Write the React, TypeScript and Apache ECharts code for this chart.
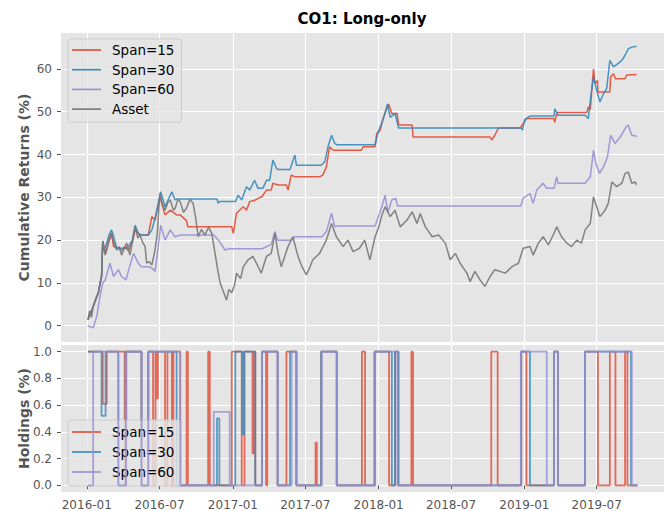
import { useEffect, useRef } from "react";
import * as echarts from "echarts";

type P = [string, number];

const seriesNames = ["Span=15", "Span=30", "Span=60", "Asset"];
const seriesColors = ["#E24A33", "#348ABD", "#988ED5", "#777777"];
const xTickLabels = ["2016-01", "2016-07", "2017-01", "2017-07", "2018-01", "2018-07", "2019-01", "2019-07"];
const returnTicks = [0, 10, 20, 30, 40, 50, 60];
const holdingTicks = [0, 0.2, 0.4, 0.6, 0.8, 1.0];

const span15Returns: P[] = [
  ["2016-01-04", 1.4], ["2016-01-17", 4.5], ["2016-01-30", 7.7], ["2016-02-07", 11.5], ["2016-02-10", 19.8],
  ["2016-02-16", 17.0], ["2016-02-20", 18.0], ["2016-03-03", 21.5], ["2016-03-08", 18.5], ["2016-03-20", 18.1],
  ["2016-03-28", 17.5], ["2016-04-05", 18.5], ["2016-04-14", 17.5], ["2016-04-24", 19.5], ["2016-05-01", 22.4],
  ["2016-05-13", 21.2], ["2016-06-03", 21.2], ["2016-06-12", 25.5], ["2016-06-20", 24.7], ["2016-07-02", 30.2],
  ["2016-07-15", 25.9], ["2016-07-28", 27.0], ["2016-08-13", 25.9], ["2016-08-22", 25.9], ["2016-09-07", 24.5],
  ["2016-09-10", 23.1], ["2016-12-29", 23.1], ["2017-01-02", 21.6], ["2017-01-10", 26.3], ["2017-01-27", 27.8],
  ["2017-02-04", 27.0], ["2017-02-12", 29.0], ["2017-02-26", 29.4], ["2017-03-15", 30.2], ["2017-03-26", 31.7],
  ["2017-04-07", 31.7], ["2017-04-11", 33.3], ["2017-04-24", 32.9], ["2017-05-15", 32.9], ["2017-05-19", 31.7],
  ["2017-05-27", 35.2], ["2017-06-05", 34.8], ["2017-08-06", 34.8], ["2017-08-14", 35.2], ["2017-08-23", 37.1],
  ["2017-08-31", 41.8], ["2017-09-09", 41.0], ["2017-11-19", 41.0], ["2017-11-23", 41.8], ["2017-12-23", 41.8],
  ["2017-12-27", 44.9], ["2018-01-05", 45.7], ["2018-01-13", 48.7], ["2018-01-26", 51.8], ["2018-02-03", 49.6],
  ["2018-02-16", 49.6], ["2018-02-20", 46.9], ["2018-03-26", 46.9], ["2018-03-28", 44.1], ["2018-10-07", 44.1],
  ["2018-10-11", 43.4], ["2018-10-19", 44.5], ["2018-10-28", 46.2], ["2018-12-21", 46.2], ["2018-12-29", 47.2],
  ["2019-01-06", 48.4], ["2019-03-16", 48.4], ["2019-03-18", 47.5], ["2019-03-23", 49.8], ["2019-06-06", 49.8],
  ["2019-06-10", 51.1], ["2019-06-15", 50.5], ["2019-06-19", 55.4], ["2019-06-23", 60.0], ["2019-06-27", 56.5],
  ["2019-07-03", 57.3], ["2019-07-04", 54.6], ["2019-08-03", 54.6], ["2019-08-05", 58.1], ["2019-08-12", 58.9],
  ["2019-08-17", 57.7], ["2019-09-10", 57.7], ["2019-09-14", 58.6], ["2019-10-09", 58.7],
];

const span30Returns: P[] = [
  ["2016-01-04", 1.4], ["2016-01-17", 4.5], ["2016-01-30", 7.7], ["2016-02-07", 11.5], ["2016-02-10", 19.8],
  ["2016-02-13", 17.5], ["2016-02-17", 18.5], ["2016-02-25", 21.0], ["2016-03-03", 22.4], ["2016-03-08", 21.0],
  ["2016-03-16", 18.1], ["2016-04-07", 18.1], ["2016-04-14", 18.5], ["2016-04-24", 20.0], ["2016-05-01", 23.5],
  ["2016-05-09", 21.6], ["2016-05-17", 21.2], ["2016-06-03", 21.2], ["2016-06-12", 22.4], ["2016-06-20", 25.1],
  ["2016-07-04", 31.3], ["2016-07-15", 27.8], ["2016-08-01", 31.3], ["2016-08-09", 29.4], ["2016-08-13", 29.6],
  ["2016-11-22", 29.6], ["2016-11-25", 28.6], ["2016-11-28", 29.0], ["2017-01-07", 29.0], ["2017-01-14", 30.5],
  ["2017-01-23", 29.4], ["2017-02-04", 32.5], ["2017-02-12", 31.7], ["2017-02-24", 34.0], ["2017-03-05", 32.1],
  ["2017-03-17", 32.1], ["2017-03-26", 34.0], ["2017-04-03", 34.0], ["2017-04-11", 38.7], ["2017-04-20", 36.8],
  ["2017-04-23", 36.5], ["2017-05-24", 36.5], ["2017-06-05", 39.9], ["2017-06-09", 37.5], ["2017-08-10", 37.5],
  ["2017-08-19", 38.3], ["2017-08-27", 41.8], ["2017-09-05", 44.5], ["2017-09-13", 42.6], ["2017-09-18", 42.3],
  ["2017-12-23", 42.3], ["2017-12-31", 45.3], ["2018-01-13", 48.4], ["2018-01-23", 51.8], ["2018-01-30", 48.7],
  ["2018-02-11", 49.6], ["2018-02-20", 46.2], ["2018-12-24", 46.2], ["2018-12-27", 45.7], ["2019-01-02", 48.2],
  ["2019-01-15", 49.0], ["2019-03-16", 49.0], ["2019-03-18", 50.7], ["2019-03-26", 49.2], ["2019-06-02", 49.2],
  ["2019-06-10", 48.4], ["2019-06-16", 53.4], ["2019-06-23", 58.1], ["2019-07-01", 55.0], ["2019-07-09", 52.3],
  ["2019-07-18", 54.2], ["2019-07-26", 55.4], ["2019-08-03", 62.0], ["2019-08-12", 60.5], ["2019-08-24", 61.3],
  ["2019-09-02", 62.0], ["2019-09-10", 63.2], ["2019-09-18", 64.7], ["2019-09-27", 65.1], ["2019-10-09", 65.3],
];

const span60Returns: P[] = [
  ["2016-01-04", 0], ["2016-01-17", -0.5], ["2016-01-26", 2.2], ["2016-02-03", 6.8], ["2016-02-10", 10.0],
  ["2016-02-16", 10.7], ["2016-02-28", 14.6], ["2016-03-08", 11.5], ["2016-03-20", 13.1], ["2016-03-28", 11.5],
  ["2016-04-08", 10.7], ["2016-04-14", 12.7], ["2016-04-27", 16.9], ["2016-05-09", 14.6], ["2016-05-17", 13.8],
  ["2016-06-03", 13.8], ["2016-06-12", 13.5], ["2016-06-20", 12.7], ["2016-06-28", 18.5], ["2016-07-04", 23.5],
  ["2016-07-15", 20.0], ["2016-07-28", 22.4], ["2016-08-09", 20.8], ["2016-08-22", 21.2], ["2016-11-14", 21.2],
  ["2016-11-30", 19.5], ["2016-12-12", 17.7], ["2016-12-24", 18.0], ["2017-03-15", 18.0], ["2017-04-07", 19.0],
  ["2017-04-16", 22.0], ["2017-04-23", 20.0], ["2017-05-28", 20.0], ["2017-06-05", 20.8], ["2017-08-12", 20.8],
  ["2017-08-23", 22.0], ["2017-09-05", 26.3], ["2017-09-13", 23.1], ["2017-09-18", 23.3], ["2017-12-23", 23.3],
  ["2018-01-09", 27.8], ["2018-01-17", 30.5], ["2018-01-24", 26.5], ["2018-02-03", 29.4], ["2018-02-13", 29.8],
  ["2018-02-17", 28.0], ["2018-12-23", 28.0], ["2018-12-29", 29.8], ["2019-01-15", 30.9], ["2019-01-23", 28.6],
  ["2019-02-01", 31.7], ["2019-02-17", 33.3], ["2019-02-26", 32.1], ["2019-03-16", 32.1], ["2019-03-23", 34.8],
  ["2019-03-26", 33.3], ["2019-06-02", 33.3], ["2019-06-15", 34.8], ["2019-06-23", 41.0], ["2019-06-29", 37.9],
  ["2019-07-08", 35.6], ["2019-07-18", 37.1], ["2019-07-28", 39.5], ["2019-08-05", 44.5], ["2019-08-16", 42.6],
  ["2019-08-29", 44.1], ["2019-09-13", 46.5], ["2019-09-18", 46.9], ["2019-09-27", 44.5], ["2019-10-09", 44.3],
];

const assetReturns: P[] = [
  ["2016-01-04", 1.4], ["2016-01-08", 3.5], ["2016-01-13", 2.0], ["2016-01-17", 4.5], ["2016-01-24", 6.5],
  ["2016-01-30", 7.7], ["2016-02-03", 10.0], ["2016-02-07", 11.5], ["2016-02-10", 19.8], ["2016-02-16", 16.5],
  ["2016-02-20", 17.7], ["2016-02-25", 20.0], ["2016-03-03", 21.7], ["2016-03-08", 19.5], ["2016-03-16", 17.7],
  ["2016-03-22", 18.5], ["2016-03-28", 16.5], ["2016-04-04", 18.0], ["2016-04-10", 19.3], ["2016-04-18", 16.5],
  ["2016-04-24", 19.5], ["2016-05-01", 23.1], ["2016-05-08", 20.5], ["2016-05-13", 21.2], ["2016-05-20", 19.5],
  ["2016-05-26", 18.5], ["2016-05-30", 14.6], ["2016-06-05", 15.0], ["2016-06-12", 14.2], ["2016-06-20", 17.7],
  ["2016-06-26", 22.0], ["2016-07-02", 30.9], ["2016-07-08", 28.5], ["2016-07-15", 27.0], ["2016-07-22", 28.8],
  ["2016-07-28", 29.4], ["2016-08-05", 27.0], ["2016-08-09", 27.4], ["2016-08-16", 29.5], ["2016-08-22", 29.0],
  ["2016-08-30", 26.5], ["2016-09-07", 27.5], ["2016-09-15", 29.5], ["2016-09-23", 28.7], ["2016-09-30", 25.0],
  ["2016-10-06", 20.8], ["2016-10-14", 22.5], ["2016-10-23", 21.2], ["2016-11-01", 23.0], ["2016-11-09", 21.6],
  ["2016-11-17", 17.0], ["2016-11-24", 13.0], ["2016-11-30", 10.0], ["2016-12-08", 8.0], ["2016-12-16", 6.0],
  ["2016-12-22", 8.5], ["2016-12-29", 7.7], ["2017-01-05", 9.5], ["2017-01-10", 12.3], ["2017-01-20", 11.0],
  ["2017-01-27", 13.8], ["2017-02-08", 15.4], ["2017-02-20", 16.2], ["2017-03-01", 14.6], ["2017-03-13", 12.3],
  ["2017-03-26", 16.2], ["2017-04-07", 16.9], ["2017-04-16", 21.6], ["2017-04-24", 17.0], ["2017-05-02", 13.8],
  ["2017-05-10", 16.0], ["2017-05-19", 18.5], ["2017-05-31", 20.8], ["2017-06-13", 16.2], ["2017-06-22", 14.0],
  ["2017-07-04", 11.9], ["2017-07-12", 13.5], ["2017-07-20", 15.4], ["2017-08-06", 16.9], ["2017-08-23", 20.0],
  ["2017-09-05", 23.9], ["2017-09-17", 20.8], ["2017-10-04", 18.5], ["2017-10-16", 20.0], ["2017-10-29", 17.3],
  ["2017-11-14", 18.1], ["2017-11-27", 20.0], ["2017-12-10", 15.4], ["2017-12-23", 20.8], ["2018-01-01", 23.0],
  ["2018-01-08", 25.5], ["2018-01-17", 27.8], ["2018-01-30", 25.5], ["2018-02-11", 27.0], ["2018-02-24", 23.1],
  ["2018-03-13", 24.7], ["2018-03-26", 26.6], ["2018-04-07", 23.9], ["2018-04-15", 26.2], ["2018-04-28", 23.1],
  ["2018-05-15", 20.8], ["2018-05-31", 21.2], ["2018-06-17", 19.3], ["2018-06-29", 15.4], ["2018-07-12", 16.9],
  ["2018-07-24", 14.6], ["2018-08-10", 12.3], ["2018-08-18", 10.3], ["2018-08-30", 12.7], ["2018-09-12", 10.7],
  ["2018-09-24", 9.2], ["2018-10-07", 11.5], ["2018-10-19", 13.1], ["2018-11-14", 12.3], ["2018-12-01", 13.8],
  ["2018-12-17", 14.6], ["2018-12-29", 18.1], ["2019-01-15", 18.5], ["2019-01-23", 16.5], ["2019-02-05", 19.3],
  ["2019-02-17", 20.8], ["2019-03-02", 18.9], ["2019-03-14", 21.2], ["2019-03-23", 23.1], ["2019-04-04", 20.8],
  ["2019-04-17", 19.3], ["2019-04-29", 18.5], ["2019-05-12", 20.0], ["2019-05-24", 19.3], ["2019-06-02", 22.4],
  ["2019-06-15", 23.9], ["2019-06-23", 30.1], ["2019-07-01", 27.8], ["2019-07-09", 25.5], ["2019-07-22", 27.0],
  ["2019-07-30", 28.6], ["2019-08-08", 33.6], ["2019-08-20", 32.5], ["2019-09-02", 33.3], ["2019-09-10", 35.6],
  ["2019-09-18", 35.9], ["2019-09-27", 33.3], ["2019-10-05", 33.6], ["2019-10-09", 32.9],
];

// holdings: value held from the given date until the next entry
const span15Holdings: P[] = [
  ["2016-01-04", 1], ["2016-02-10", 0.61], ["2016-02-20", 1], ["2016-04-05", 0], ["2016-04-09", 1],
  ["2016-05-17", 0], ["2016-06-03", 1], ["2016-06-15", 0], ["2016-06-21", 1], ["2016-06-24", 0.65],
  ["2016-06-27", 1], ["2016-07-15", 0], ["2016-07-21", 1], ["2016-08-01", 0], ["2016-08-05", 1],
  ["2016-08-22", 0], ["2016-09-07", 1], ["2016-09-10", 0], ["2016-10-31", 1], ["2016-11-04", 0],
  ["2016-12-29", 1], ["2017-01-23", 0], ["2017-01-30", 1], ["2017-02-19", 0.24], ["2017-02-23", 1],
  ["2017-02-26", 0], ["2017-03-15", 1], ["2017-03-25", 0], ["2017-03-28", 1], ["2017-04-23", 0],
  ["2017-05-15", 1], ["2017-06-09", 0], ["2017-07-27", 0.32], ["2017-07-30", 0], ["2017-08-10", 1],
  ["2017-09-18", 0], ["2017-11-20", 1], ["2017-11-28", 0], ["2017-12-21", 1], ["2018-01-27", 0],
  ["2018-02-11", 1], ["2018-02-18", 0], ["2018-03-24", 1], ["2018-03-28", 0], ["2018-10-10", 1],
  ["2018-10-26", 0], ["2018-12-24", 1], ["2019-01-06", 0], ["2019-03-16", 1], ["2019-03-26", 0],
  ["2019-06-02", 1], ["2019-07-04", 0], ["2019-08-03", 1], ["2019-08-17", 0], ["2019-09-10", 1],
  ["2019-09-16", 0], ["2019-10-11", 0],
];

const span30Holdings: P[] = [
  ["2016-01-04", 1], ["2016-02-07", 0.52], ["2016-02-17", 1], ["2016-03-20", 0], ["2016-04-07", 1],
  ["2016-05-17", 0], ["2016-06-03", 1], ["2016-08-13", 0], ["2016-11-22", 0.5], ["2016-11-28", 0],
  ["2017-01-07", 1], ["2017-01-25", 0.38], ["2017-01-29", 1], ["2017-02-26", 0], ["2017-03-15", 1],
  ["2017-04-23", 0], ["2017-05-24", 1], ["2017-06-09", 0], ["2017-08-10", 1], ["2017-09-18", 0],
  ["2017-12-23", 1], ["2018-02-03", 0], ["2018-02-11", 1], ["2018-02-20", 0], ["2018-12-24", 1],
  ["2019-01-15", 0], ["2019-03-16", 1], ["2019-03-26", 0], ["2019-06-02", 1], ["2019-09-25", 0],
  ["2019-10-11", 0],
];

const span60Holdings: P[] = [
  ["2016-01-04", 0], ["2016-01-17", 1], ["2016-03-20", 0], ["2016-04-08", 1], ["2016-05-17", 0],
  ["2016-06-03", 1], ["2016-08-22", 0], ["2016-11-14", 0.55], ["2016-12-24", 0], ["2017-03-15", 1],
  ["2017-04-23", 0], ["2017-05-28", 1], ["2017-06-09", 0], ["2017-08-12", 1], ["2017-09-18", 0],
  ["2017-12-23", 1], ["2018-02-17", 0], ["2018-12-23", 1], ["2019-02-26", 0], ["2019-03-16", 1],
  ["2019-03-26", 0], ["2019-06-02", 1], ["2019-09-27", 0], ["2019-10-11", 0],
];

const ts = (s: string) => {
  const [y, m, d] = s.split("-").map(Number);
  return new Date(y, m - 1, d || 1).getTime();
};
const toData = (arr: P[]) => arr.map(([d, v]) => [ts(d), v]);
const fmtMonth = (v: number) => {
  const d = new Date(v);
  const m = d.getMonth() + 1;
  return `${d.getFullYear()}-${m < 10 ? "0" + m : m}`;
};

const FONT = "DejaVu Sans";
const X_MIN = ts("2015-10-28") + 10 * 3600 * 1000;
const X_MAX = ts("2019-12-16") + 14 * 3600 * 1000;
const xTickValues = xTickLabels.map((s) => ts(s));

export default function App() {
  const ref = useRef<HTMLDivElement>(null);
  useEffect(() => {
    const chart = echarts.init(ref.current!, null, { renderer: "svg" });
    const splitLine = { show: true, lineStyle: { color: "#FFFFFF", width: 1.2 } };
    const tickStyle = { show: true, length: 4, inside: false, lineStyle: { color: "#555555", width: 1 } };
    const labelStyle = { color: "#555555", fontFamily: FONT, fontSize: 12 };
    const returnsData = [span15Returns, span30Returns, span60Returns, assetReturns];
    const holdingsData = [span15Holdings, span30Holdings, span60Holdings];
    const legendBase = {
      orient: "vertical",
      left: 68,
      icon: "rect",
      itemWidth: 29,
      itemHeight: 1.6,
      itemGap: 5.7,
      selectedMode: false,
      backgroundColor: "rgba(229,229,229,0.8)",
      borderColor: "#CCCCCC",
      borderWidth: 1,
      borderRadius: 3,
      textStyle: { fontFamily: FONT, fontSize: 13.5, color: "#000", lineHeight: 14, padding: [0, 0, 0, 6] },
    };
    chart.setOption({
      animation: false,
      backgroundColor: "#FFFFFF",
      grid: [
        { left: 61, top: 33, width: 603, height: 309, show: true, backgroundColor: "#E5E5E5", borderWidth: 0 },
        { left: 61, top: 345, width: 603, height: 147, show: true, backgroundColor: "#E5E5E5", borderWidth: 0 },
      ],
      xAxis: [
        {
          type: "value", gridIndex: 0, min: X_MIN, max: X_MAX,
          axisLine: { show: false },
          axisTick: { show: false, customValues: xTickValues },
          axisLabel: { show: false, customValues: xTickValues },
          splitLine,
        },
        {
          type: "value", gridIndex: 1, min: X_MIN, max: X_MAX,
          axisLine: { show: false },
          axisTick: { ...tickStyle, customValues: xTickValues },
          axisLabel: { ...labelStyle, margin: 7, customValues: xTickValues, formatter: (v: number) => fmtMonth(v) },
          splitLine,
        },
      ],
      yAxis: [
        {
          type: "value", gridIndex: 0, min: -3.8, max: 68.4,
          axisLine: { show: false },
          axisTick: { ...tickStyle, customValues: returnTicks },
          axisLabel: { ...labelStyle, margin: 9, customValues: returnTicks, formatter: (v: number) => String(v) },
          splitLine,
        },
        {
          type: "value", gridIndex: 1, min: -0.05, max: 1.05,
          axisLine: { show: false },
          axisTick: { ...tickStyle, customValues: holdingTicks },
          axisLabel: { ...labelStyle, margin: 9, customValues: holdingTicks, formatter: (v: number) => v.toFixed(1) },
          splitLine,
        },
      ],
      legend: [
        { ...legendBase, top: 39, padding: [4, 7, 6, 4], data: seriesNames },
        { ...legendBase, top: 420, padding: [5, 7, 7, 4], itemGap: 6, data: seriesNames.slice(0, 3) },
      ],
      graphic: [
        {
          type: "text", x: 362, y: 19,
          style: { text: "CO1: Long-only", fontFamily: FONT, fontSize: 15, fontWeight: "bold", fill: "#000", align: "center", verticalAlign: "middle" },
        },
        {
          type: "text", x: 24, y: 187.5, rotation: Math.PI / 2,
          style: { text: "Cumulative Returns (%)", fontFamily: FONT, fontSize: 14, fontWeight: "bold", fill: "#555555", align: "center", verticalAlign: "middle" },
        },
        {
          type: "text", x: 24, y: 418.5, rotation: Math.PI / 2,
          style: { text: "Holdings (%)", fontFamily: FONT, fontSize: 14, fontWeight: "bold", fill: "#555555", align: "center", verticalAlign: "middle" },
        },
      ],
      series: [
        ...returnsData.map((arr, i) => ({
          type: "line", name: seriesNames[i], xAxisIndex: 0, yAxisIndex: 0,
          data: toData(arr), showSymbol: false, symbol: "none", color: seriesColors[i],
          lineStyle: { width: 1.5, color: seriesColors[i], opacity: 0.9 },
          emphasis: { disabled: true }, silent: true, z: 2 + i,
        })),
        ...holdingsData.map((arr, i) => ({
          type: "line", name: seriesNames[i], xAxisIndex: 1, yAxisIndex: 1, step: "end",
          data: toData(arr), showSymbol: false, symbol: "none", color: seriesColors[i],
          lineStyle: { width: 1.8, color: seriesColors[i], opacity: 0.8 },
          emphasis: { disabled: true }, silent: true, z: 2 + i,
        })),
      ],
    });
    return () => chart.dispose();
  }, []);
  return <div ref={ref} style={{ position: "absolute", left: 0, top: 0, width: 672, height: 511 }} />;
}
